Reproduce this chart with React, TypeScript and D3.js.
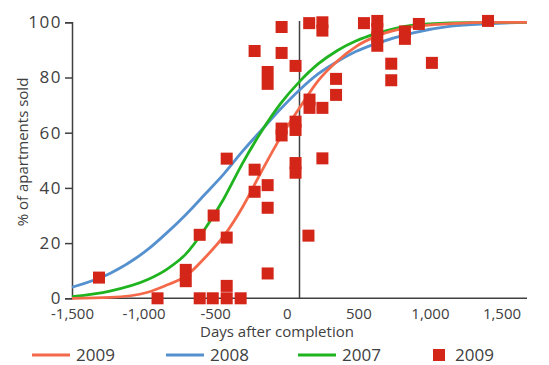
import React, { useEffect, useRef } from 'react';
import * as d3 from 'd3';

// fitted curves
const curveDays = [-1500, -1250, -1000, -875, -750, -625, -500, -375, -250, -125, 0, 125, 250, 375, 500, 750, 1000, 1250, 1500];
const fit2009 = [0, 0.3, 2.2, 4.8, 8, 14.6, 22.5, 33.1, 46, 58.3, 69, 79, 86, 91.3, 94.8, 98.4, 99.5, 100, 100];
const fit2008 = [4, 9, 17.7, 23.7, 30.3, 37.6, 45, 53.3, 61, 68.6, 75.5, 81.4, 85.8, 89.5, 92.2, 96.2, 98.6, 99.5, 100];
const fit2007 = [0.6, 2.6, 6.8, 10.5, 16, 25, 36, 49, 60.5, 70.5, 78.5, 85, 89.8, 93.3, 95.8, 99, 99.8, 100, 100];

// observed projects 2009
const obsDays = [
  -1322, -936, -750, -750, -658, -658, -572, -566, -480, -480, -480, -480, -388,
  -296, -296, -296, -210, -210, -210, -210, -210, -118, -118, -118, -118,
  -26, -26, -26, -26, -26, 64, 59, 66, 66, 151, 151, 151, 151, 241, 241, 425,
  513, 513, 513, 513, 605, 605, 695, 695, 787, 873, 1243,
];
const obsSold = [
  7.5, 0, 10.3, 6.2, 0, 23, 0, 30, 0, 4.5, 22, 50.6, 0,
  89.6, 46.6, 38.6, 82, 77.7, 41, 32.8, 9, 98.3, 88.9, 61.5, 59,
  84.2, 64, 61, 49, 45.5, 99.7, 22.7, 72, 69, 100, 97, 69, 50.7, 79.5, 73.7, 99.7,
  100.5, 97.5, 94.5, 91.5, 85, 79, 96.7, 94, 99.4, 85.3, 100.5,
];

const xTicks = [-1500, -1000, -500, 0, 500, 1000, 1500];
const yTicks = [0, 20, 40, 60, 80, 100];

const seriesNames = ['2009', '2008', '2007'];
const seriesColors = ['#f4694a', '#5590cf', '#1fb41f'];
const markerColor = '#d32518';
const ink = '#404040';
const font = '"Open Sans", sans-serif';

const App = () => {
  const ref = useRef<SVGSVGElement>(null);

  useEffect(() => {
    const svg = d3.select(ref.current);
    svg.selectAll('*').remove();

    const x = d3.scaleLinear().domain([-1500, 1500]).range([72, 527]);
    // the tick labels in the source sit on a slightly narrower span than the plot
    const xLab = d3.scaleLinear().domain([-1500, 1500]).range([72, 501.5]);
    const y = d3.scaleLinear().domain([0, 100]).range([298.3, 22.3]);

    // y axis
    const yAxis = svg.append('g')
      .attr('transform', 'translate(72,0)')
      .call(d3.axisLeft(y).tickValues(yTicks).tickSize(7).tickPadding(3));
    yAxis.select('.domain').attr('stroke', ink).attr('stroke-width', 1.5);
    yAxis.selectAll('.tick line').attr('stroke', ink).attr('stroke-width', 1.5);
    yAxis.selectAll('.tick text')
      .attr('fill', ink)
      .style('font-family', font)
      .style('font-size', '17px')
      .style('letter-spacing', '1.5px');

    // x axis line + labels (no tick marks)
    svg.append('line')
      .attr('x1', x(-1500)).attr('x2', x(1500))
      .attr('y1', y(0)).attr('y2', y(0))
      .attr('stroke', ink).attr('stroke-width', 1.5);
    const fmt = d3.format(',');
    const xAxis = svg.append('g')
      .attr('transform', `translate(0,${y(0)})`)
      .call(d3.axisBottom(xLab).tickValues(xTicks).tickSize(0).tickPadding(10)
        .tickFormat((d) => fmt(d as number).replace('\u2212', '-')));
    xAxis.select('.domain').remove();
    xAxis.selectAll('.tick text')
      .attr('fill', ink)
      .style('font-family', font)
      .style('font-size', '15px');

    // completion line
    svg.append('line')
      .attr('x1', x(0)).attr('x2', x(0))
      .attr('y1', y(100.5)).attr('y2', y(0))
      .attr('stroke', ink).attr('stroke-width', 1.5);

    // axis titles
    svg.append('text')
      .attr('x', 277).attr('y', 337)
      .attr('text-anchor', 'middle')
      .attr('fill', ink)
      .style('font-family', font).style('font-size', '15px')
      .text('Days after completion');
    svg.append('text')
      .attr('transform', 'translate(28,152) rotate(-90)')
      .attr('text-anchor', 'middle')
      .attr('fill', ink)
      .style('font-family', font).style('font-size', '15px')
      .text('% of apartments sold');

    // fitted curves
    const line = d3.line<number>()
      .x((d, i) => x(curveDays[i]))
      .y((d) => y(d))
      .curve(d3.curveMonotoneX);
    const fits = [fit2009, fit2008, fit2007];
    [1, 2, 0].forEach((k) => {
      svg.append('path')
        .attr('d', line(fits[k]))
        .attr('fill', 'none')
        .attr('stroke', seriesColors[k])
        .attr('stroke-width', 2.8);
    });

    // observations
    const s = 12;
    svg.append('g').selectAll('rect')
      .data(obsDays.map((d, i) => [d, obsSold[i]]))
      .enter().append('rect')
      .attr('x', (d) => x(d[0]) - s / 2)
      .attr('y', (d) => y(d[1]) - s / 2)
      .attr('width', s).attr('height', s)
      .attr('fill', markerColor);

    // legend
    const ly = 355;
    const lx = [32, 166, 298];
    seriesNames.forEach((name, i) => {
      svg.append('line')
        .attr('x1', lx[i]).attr('x2', lx[i] + 38)
        .attr('y1', ly).attr('y2', ly)
        .attr('stroke', seriesColors[i]).attr('stroke-width', 3);
      svg.append('text')
        .attr('x', lx[i] + 44).attr('y', ly + 6)
        .attr('fill', ink)
        .style('font-family', font).style('font-size', '17px')
        .text(name);
    });
    svg.append('rect')
      .attr('x', 433).attr('y', ly - 6)
      .attr('width', 12).attr('height', 12)
      .attr('fill', markerColor);
    svg.append('text')
      .attr('x', 455).attr('y', ly + 6)
      .attr('fill', ink)
      .style('font-family', font).style('font-size', '17px')
      .text('2009');
  }, []);

  return (
    <svg
      ref={ref}
      width={549}
      height={365}
      style={{ position: 'absolute', left: 0, top: 0, background: '#fff' }}
    />
  );
};

export default App;
